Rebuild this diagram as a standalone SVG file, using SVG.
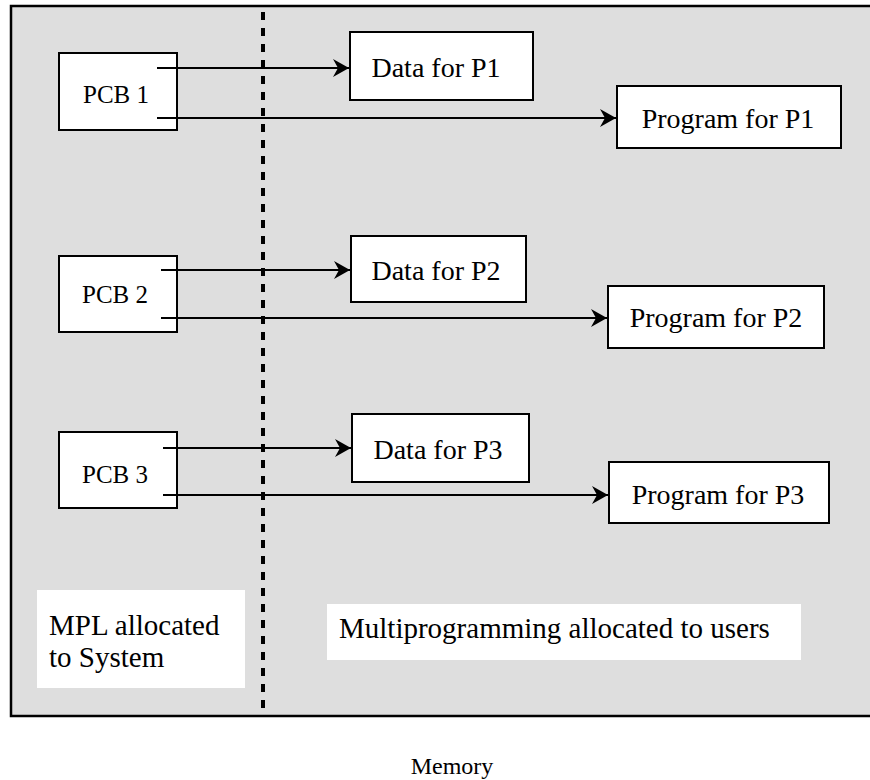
<svg xmlns="http://www.w3.org/2000/svg" width="870" height="780" viewBox="0 0 870 780">
  <style>
    .box { fill: #ffffff; stroke: #000000; stroke-width: 2; }
    .pad { fill: #ffffff; stroke: none; }
    .lbl { font-family: "Liberation Serif", "Times New Roman", serif; font-size: 28px; fill: #000000; }
    .cap { font-family: "Liberation Serif", "Times New Roman", serif; font-size: 29px; fill: #000000; }
    .pcb { font-family: "Liberation Serif", "Times New Roman", serif; font-size: 25px; fill: #000000; text-anchor: middle; }
    .foot { font-family: "Liberation Serif", "Times New Roman", serif; font-size: 24px; fill: #000000; text-anchor: middle; }
    .mid { text-anchor: middle; }
    .link { fill: none; stroke: #000000; stroke-width: 2; marker-end: url(#head); }
  </style>
  <defs>
    <marker id="head" markerUnits="userSpaceOnUse" markerWidth="20" markerHeight="20" viewBox="-18 -10 20 20" refX="0" refY="0" orient="auto">
      <path d="M0,0 L-16,-9 L-11,0 L-16,9 Z" fill="#000000"/>
    </marker>
  </defs>

  <!-- memory area -->
  <rect x="11" y="6" width="880" height="710" fill="#dedede" stroke="#000000" stroke-width="2.5"/>

  <!-- partition between system and user areas -->
  <line x1="263" y1="12" x2="263" y2="710" stroke="#000000" stroke-width="4" stroke-dasharray="8 8"/>

  <!-- region captions -->
  <g id="system-area">
    <rect class="pad" x="37" y="590" width="208" height="98"/>
    <text class="cap" x="49" y="635">MPL allocated</text>
    <text class="cap" x="49" y="667">to System</text>
  </g>
  <g id="user-area">
    <rect class="pad" x="327" y="604" width="474" height="56"/>
    <text class="cap" x="339" y="638">Multiprogramming allocated to users</text>
  </g>

  <!-- process control blocks -->
  <g id="pcb1">
    <rect class="box" x="59" y="53" width="118" height="77"/>
    <text class="pcb" x="116" y="103">PCB 1</text>
  </g>
  <g id="pcb2">
    <rect class="box" x="59" y="256" width="118" height="76"/>
    <text class="pcb" x="115" y="303">PCB 2</text>
  </g>
  <g id="pcb3">
    <rect class="box" x="59" y="432" width="118" height="76"/>
    <text class="pcb" x="115" y="483">PCB 3</text>
  </g>

  <!-- data segments -->
  <g id="data1">
    <rect class="box" x="350" y="32" width="183" height="68"/>
    <text class="lbl mid" x="436" y="77">Data for P1</text>
  </g>
  <g id="data2">
    <rect class="box" x="351" y="236" width="175" height="66"/>
    <text class="lbl mid" x="436" y="280">Data for P2</text>
  </g>
  <g id="data3">
    <rect class="box" x="352" y="414" width="177" height="68"/>
    <text class="lbl mid" x="438" y="459">Data for P3</text>
  </g>

  <!-- program segments -->
  <g id="prog1">
    <rect class="box" x="617" y="86" width="224" height="62"/>
    <text class="lbl mid" x="728" y="128">Program for P1</text>
  </g>
  <g id="prog2">
    <rect class="box" x="608" y="286" width="216" height="62"/>
    <text class="lbl mid" x="716" y="327">Program for P2</text>
  </g>
  <g id="prog3">
    <rect class="box" x="609" y="462" width="220" height="61"/>
    <text class="lbl mid" x="718" y="504">Program for P3</text>
  </g>

  <!-- pointers from each PCB -->
  <g id="connectors">
    <line class="link" x1="157" y1="68" x2="349" y2="68"/>
    <line class="link" x1="157" y1="118" x2="616" y2="118"/>
    <line class="link" x1="161" y1="270" x2="350" y2="270"/>
    <line class="link" x1="161" y1="318" x2="607" y2="318"/>
    <line class="link" x1="163" y1="448" x2="351" y2="448"/>
    <line class="link" x1="163" y1="495" x2="608" y2="495"/>
  </g>

  <text class="foot" x="452" y="774">Memory</text>
</svg>
